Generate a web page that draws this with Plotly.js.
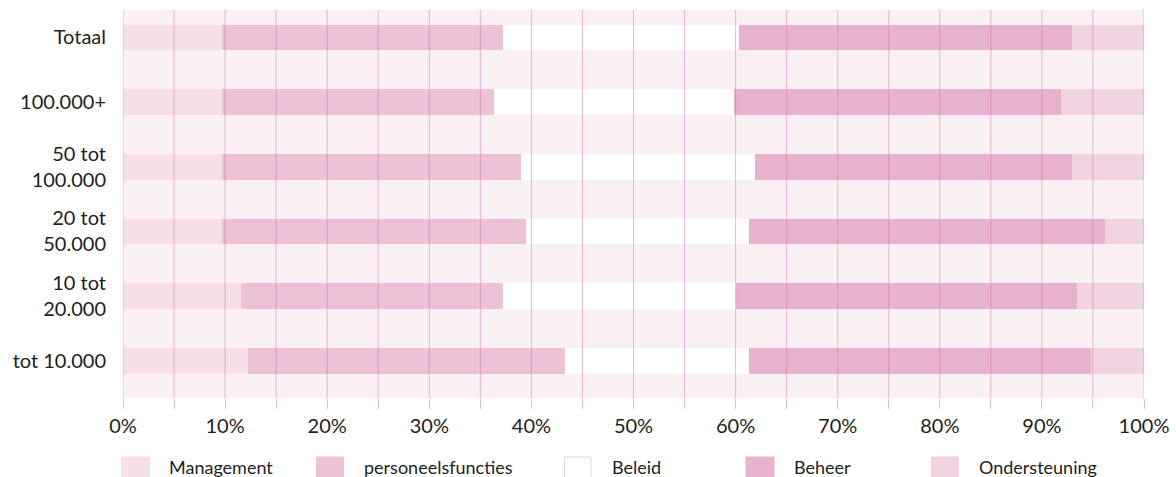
<!DOCTYPE html>
<html>
<head>
<meta charset="utf-8">
<script src="https://cdn.plot.ly/plotly-3.0.1.min.js"></script>
<style>html,body{margin:0;padding:0;background:#fff;}#chart{width:1176px;height:477px;}</style>
</head>
<body>
<div id="chart"></div>
<script>
// ---- data ----
const categories = ['Totaal', '100.000+', '50 tot<br>100.000', '20 tot<br>50.000', '10 tot<br>20.000', 'tot 10.000'];
const seriesNames = ['Management', 'personeelsfuncties', 'Beleid', 'Beheer', 'Ondersteuning'];
const management = [9.7, 9.7, 9.7, 9.7, 11.6, 12.2];
const personeelsfuncties = [27.5, 26.6, 29.3, 29.8, 25.6, 31.1];
const beleid = [23.1, 23.5, 22.9, 21.8, 22.8, 18.0];
const beheer = [32.6, 32.1, 31.0, 34.9, 33.4, 33.5];
const ondersteuning = [7.1, 8.1, 7.1, 3.8, 6.6, 5.2];
const tickValues = [0, 5, 10, 15, 20, 25, 30, 35, 40, 45, 50, 55, 60, 65, 70, 75, 80, 85, 90, 95, 100];
const tickLabels = ['0%', '', '10%', '', '20%', '', '30%', '', '40%', '', '50%', '', '60%', '', '70%', '', '80%', '', '90%', '', '100%'];

// ---- styles ----
const colors = ['#f5e0ea', '#edc2d7', '#ffffff', '#e7b2ce', '#f1d2e1'];
const gridColor = 'rgba(215,115,168,0.5)';
const font = 'Lato, "Open Sans", sans-serif';
const textColor = '#1e1e1e';

const values = [management, personeelsfuncties, beleid, beheer, ondersteuning];
const traces = values.map((v, i) => ({
  type: 'bar',
  orientation: 'h',
  name: seriesNames[i],
  x: v,
  y: categories,
  marker: {color: colors[i], line: {width: 0}},
  hoverinfo: 'name+x'
}));

// plot area in pixels
const L = 123, R = 1144, T = 10, B = 398;
const px2x = p => (p - L) / (R - L);
const py2y = p => (B - p) / (B - T);

const shapes = [];
tickValues.forEach(v => {
  shapes.push({type: 'line', xref: 'x', yref: 'paper', x0: v, x1: v, y0: 0, y1: 1,
    layer: 'above', line: {color: gridColor, width: 1}});
});

// manual legend
const legendSw = [[121.5, 149.5], [316.5, 343.5], [564.5, 591], [746, 774], [931.5, 958.5]];
const legendTx = [167, 362, 610, 792, 977];
const annotations = [];
seriesNames.forEach((n, i) => {
  shapes.push({type: 'rect', xref: 'paper', yref: 'paper',
    x0: px2x(legendSw[i][0]), x1: px2x(legendSw[i][1]), y0: py2y(481), y1: py2y(457),
    fillcolor: colors[i], line: {color: i === 2 ? '#f2cfe0' : colors[i], width: 1}});
  annotations.push({xref: 'paper', yref: 'paper', x: px2x(legendTx[i]), y: py2y(467),
    xanchor: 'left', yanchor: 'middle', text: n, showarrow: false,
    font: {family: font, size: 18, color: textColor}});
});

const layout = {
  width: 1176, height: 477,
  margin: {l: L, r: 1176 - R, t: T, b: 477 - B, pad: 0},
  paper_bgcolor: '#ffffff',
  plot_bgcolor: '#fbf0f4',
  barmode: 'stack',
  bargap: 0.6,
  showlegend: false,
  font: {family: font, size: 20, color: textColor},
  xaxis: {
    range: [0, 100], fixedrange: true,
    tickmode: 'array', tickvals: tickValues, ticktext: tickLabels,
    showgrid: false, zeroline: false, showline: false,
    ticks: 'outside', ticklen: 10, tickwidth: 1, tickcolor: gridColor,
    tickfont: {family: font, size: 20, color: textColor}
  },
  yaxis: {
    type: 'category', range: [5.575, -0.425], fixedrange: true,
    showgrid: false, zeroline: false, showline: false, ticks: '',
    ticklabelstandoff: 16,
    tickfont: {family: font, size: 20, color: textColor}
  },
  shapes: shapes,
  annotations: annotations
};

Plotly.newPlot('chart', traces, layout, {displayModeBar: false, staticPlot: true});
</script>
</body>
</html>
